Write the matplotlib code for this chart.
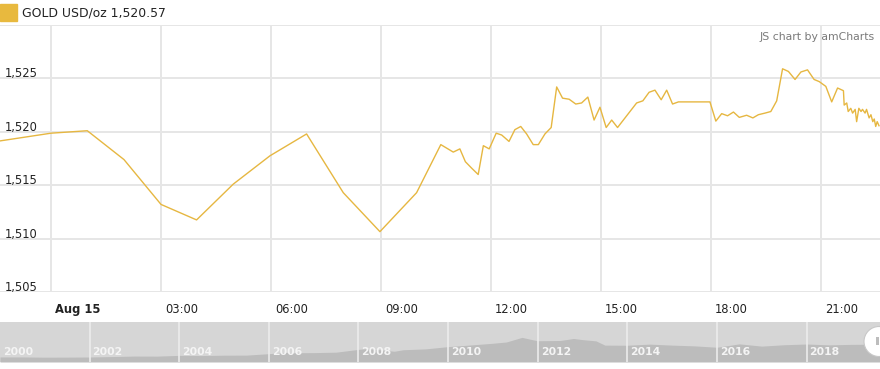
#gold price intraday chart with scrollbar (amCharts look)
import matplotlib
matplotlib.use('Agg')
import matplotlib.pyplot as plt
import matplotlib.transforms as mtransforms
import matplotlib.patches as mpatches

#intraday prices, hours from Aug 15 00:00
hours = [-2.0, 0.0, 0.99, 1.99, 3.0, 3.97, 4.97, 5.97, 6.97, 7.97, 8.97, 9.97,
         10.63, 10.97, 11.15, 11.3, 11.47, 11.65, 11.79, 11.95, 12.14, 12.29,
         12.49, 12.65, 12.81, 12.97, 13.15, 13.29, 13.47, 13.64, 13.79, 13.95,
         14.13, 14.31, 14.47, 14.64, 14.81, 14.97, 15.14, 15.29, 15.45, 15.97,
         16.14, 16.31, 16.47, 16.64, 16.79, 16.95, 17.11, 17.97, 18.13, 18.29,
         18.45, 18.61, 18.77, 18.97, 19.14, 19.29, 19.47, 19.63, 19.79, 19.95,
         20.11, 20.29, 20.45, 20.63, 20.81, 20.95, 21.13, 21.29, 21.45, 21.61,
         21.63, 21.70, 21.74, 21.81, 21.86, 21.93, 21.97, 22.03, 22.09, 22.13,
         22.20, 22.24, 22.31, 22.36, 22.41, 22.45, 22.49, 22.53, 22.58]
prices = [1518.83, 1519.87, 1520.1, 1517.4, 1513.2, 1511.75, 1515.1, 1517.75,
          1519.8, 1514.3, 1510.65, 1514.3, 1518.8, 1518.1, 1518.4, 1517.2,
          1516.6, 1516.0, 1518.7, 1518.4, 1519.87, 1519.7, 1519.1, 1520.2,
          1520.5, 1519.8, 1518.8, 1518.8, 1519.8, 1520.4, 1524.2, 1523.15,
          1523.05, 1522.6, 1522.7, 1523.25, 1521.1, 1522.3, 1520.4, 1521.1,
          1520.4, 1522.7, 1522.9, 1523.7, 1523.9, 1523.0, 1523.9, 1522.6,
          1522.8, 1522.8, 1521.0, 1521.7, 1521.5, 1521.85, 1521.35, 1521.55,
          1521.3, 1521.6, 1521.75, 1521.9, 1522.9, 1525.9, 1525.65, 1524.9,
          1525.6, 1525.8, 1524.9, 1524.7, 1524.25, 1522.8, 1524.1, 1523.85,
          1522.5, 1522.7, 1521.9, 1522.2, 1521.75, 1522.1, 1520.95, 1522.2,
          1521.9, 1522.1, 1521.75, 1522.1, 1521.3, 1521.6, 1520.95, 1521.2,
          1520.5, 1520.95, 1520.57]

x_ticks = [0, 3, 6, 9, 12, 15, 18, 21]
x_labels = ['Aug 15', '03:00', '06:00', '09:00', '12:00', '15:00', '18:00', '21:00']
y_ticks = [1505, 1510, 1515, 1520, 1525]
y_labels = ['1,505', '1,510', '1,515', '1,520', '1,525']
legend_text = 'GOLD USD/oz 1,520.57'

#long history for the scrollbar
years = [2000, 2000.5, 2001, 2001.5, 2002, 2002.5, 2003, 2003.5, 2004, 2004.5,
         2005, 2005.5, 2006, 2006.4, 2006.5, 2007, 2007.5, 2008, 2008.2, 2008.8,
         2009, 2009.5, 2010, 2010.5, 2011, 2011.3, 2011.65, 2011.9, 2012, 2012.5,
         2012.8, 2013, 2013.3, 2013.5, 2014, 2014.5, 2015, 2015.5, 2016, 2016.5,
         2017, 2017.5, 2018, 2018.5, 2019, 2019.4, 2019.64]
hist_prices = [285, 285, 265, 270, 280, 315, 355, 350, 410, 395, 425, 430, 545,
               650, 620, 630, 665, 890, 960, 740, 860, 930, 1110, 1240, 1380,
               1480, 1850, 1650, 1580, 1600, 1760, 1670, 1570, 1230, 1220, 1310,
               1230, 1170, 1060, 1330, 1150, 1260, 1320, 1250, 1290, 1300, 1510]
year_labels = [2000, 2002, 2004, 2006, 2008, 2010, 2012, 2014, 2016, 2018]

W, H = 880, 369
line_color = '#e6b741'
grid_color = '#e6e6e6'
fs = 8.3

fig = plt.figure(figsize=(W / 100, H / 100), dpi=100)
fig.patch.set_facecolor('white')

#main chart
ax = fig.add_axes([0, 1 - 292 / H, 1, (292 - 25) / H])
ax.plot(hours, prices, color=line_color, lw=1.0)
ax.set_xlim(-51 / 36.67, (880 - 51) / 36.67)
ax.set_ylim(1505, 1530)
ax.set_yticks(y_ticks + [1530])
ax.set_xticks(x_ticks)
ax.set_xticklabels(x_labels)
ax.grid(True, color=grid_color, lw=1.4)
ax.set_axisbelow(True)
for s in ax.spines.values():
    s.set_visible(False)
ax.tick_params(axis='y', left=False, labelleft=False)
ax.tick_params(axis='x', length=0, pad=8, labelsize=fs, labelcolor='#222222')
offset = mtransforms.ScaledTranslation(4 / 100, 0, fig.dpi_scale_trans)
for lab in ax.get_xticklabels():
    lab.set_horizontalalignment('left')
    lab.set_transform(lab.get_transform() + offset)
ax.get_xticklabels()[0].set_fontweight('bold')

#y labels sit inside the plot, above their gridlines
for v, lab in zip(y_ticks, y_labels):
    ax.annotate(lab, xy=(0, v), xycoords=ax.get_yaxis_transform(),
                xytext=(5, 1), textcoords='offset pixels',
                va='baseline', ha='left', fontsize=fs, color='#222222')

ax.text(0.9943, 0.955, 'JS chart by amCharts', transform=ax.transAxes,
        ha='right', va='center', fontsize=7.8, color='#7a7a7a')

#legend
fig.patches.append(mpatches.Rectangle((0, 1 - 21 / H), 17 / W, 17 / H,
                                      transform=fig.transFigure,
                                      color='#e8b93e', figure=fig))
fig.text(22 / W, 1 - 13.5 / H, legend_text, ha='left', va='center',
         fontsize=8.9, color='#222222')

#scrollbar
sb = fig.add_axes([0, 1 - 362 / H, 1, 40 / H])
sb.set_facecolor('#d6d6d6')
sb.fill_between(years, -120, hist_prices, color='#bcbcbc', lw=0)
sb.set_xlim(2000, 2019.64)
sb.set_ylim(-120, 3080)
for y in year_labels[1:]:
    sb.axvline(y, color='#ececec', lw=1.2)
for y in year_labels:
    sb.annotate(str(y), xy=(y, 0), xycoords=sb.get_xaxis_transform(),
                xytext=(3, 5), textcoords='offset pixels', ha='left',
                va='bottom', fontsize=7.8, fontweight='bold', color='#f4f4f4')
sb.set_xticks([])
sb.set_yticks([])
for s in sb.spines.values():
    s.set_visible(False)

#drag handle at the right end
fig.patches.append(mpatches.Circle((879, H - 341.5), 15,
                                   transform=mtransforms.IdentityTransform(),
                                   facecolor='white', edgecolor='#c8c8c8',
                                   lw=0.8, figure=fig))
fig.patches.append(mpatches.Rectangle((876, H - 345), 3, 8,
                                      transform=mtransforms.IdentityTransform(),
                                      facecolor='#bdbdbd', lw=0, figure=fig))

fig.savefig('out.png', dpi=100)
